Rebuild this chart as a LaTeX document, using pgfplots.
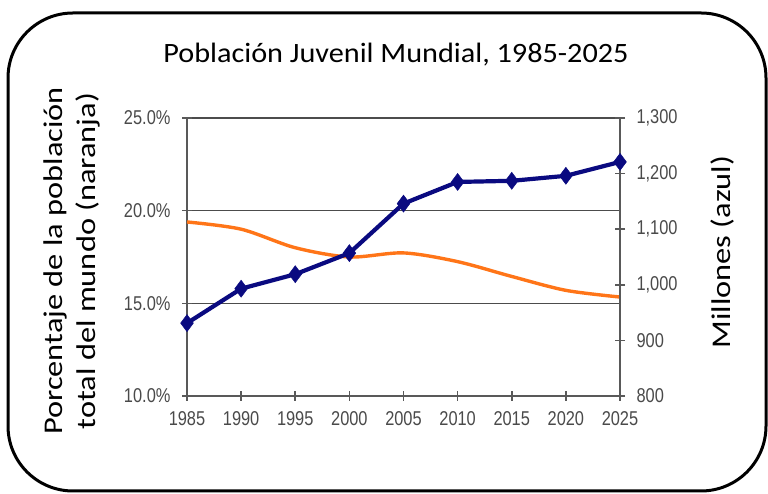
\documentclass[border=0pt]{standalone}
\usepackage{fontspec}
\setmainfont{Carlito}
\newfontfamily\tickfont[FakeStretch=0.82]{Liberation Sans}
\newfontfamily\labfont[FakeStretch=1.2]{Carlito}
\newfontfamily\titfont[FakeStretch=1.08]{Carlito}
\usepackage{pgfplots}
\pgfplotsset{compat=1.18}
\definecolor{bluel}{HTML}{0A0A80}
\definecolor{orangel}{HTML}{FF7518}
\definecolor{tickgray}{HTML}{4A4A4A}
\begin{document}
\begin{tikzpicture}[x=1pt,y=1pt]
\path[use as bounding box] (0,0) rectangle (768,494);
\draw[line width=3pt, rounded corners=65pt] (8,3) rectangle (766,481);
\node[font=\titfont\fontsize{28}{32}\selectfont] at (396,439) {Población Juvenil Mundial, 1985-2025};
\node[font=\labfont\fontsize{27}{33}\selectfont, rotate=90, align=center] at (72,233) {Porcentaje de la población\\total del mundo (naranja)};
\node[font=\labfont\fontsize{27}{33}\selectfont, rotate=90] at (722,242) {Millones (azul)};
\begin{axis}[
  at={(187pt,98pt)}, anchor=south west,
  width=433pt, height=278pt, scale only axis,
  xmin=1985, xmax=2025, ymin=10, ymax=25,
  xtick={1985,1990,...,2025},
  ytick={10,15,20,25},
  yticklabel={\pgfmathprintnumber[fixed,fixed zerofill,precision=1]{\tick}\%},
  /pgf/number format/assume math mode=true,
  xticklabel style={/pgf/number format/1000 sep={}, yshift=-7pt},
  yticklabel style={xshift=-8pt},
  tick label style={font=\tickfont\fontsize{20}{21}\selectfont, text=tickgray},
  axis y line*=left, axis x line*=bottom,
  axis line style={draw=black!65, line width=1.6pt},
  tick style={draw=black!65, line width=1.6pt},
  tick align=center, major tick length=10pt,
  ymajorgrids, grid style={draw=black!70, line width=1.6pt},
  xtick pos=bottom, ytick pos=left,
  clip=false,
]
\addplot[orangel, line width=3.4pt, smooth, tension=0.5] coordinates {
(1985,19.39) (1990,19.0) (1995,18.0) (2000,17.5) (2005,17.72) (2010,17.25) (2015,16.45) (2020,15.7) (2025,15.34)};
\end{axis}
\begin{axis}[
  at={(187pt,98pt)}, anchor=south west,
  width=433pt, height=278pt, scale only axis,
  xmin=1985, xmax=2025, ymin=800, ymax=1300,
  ytick={800,900,...,1300},
  /pgf/number format/assume math mode=true,
  yticklabel style={/pgf/number format/1000 sep={,}, xshift=8pt},
  tick label style={font=\tickfont\fontsize{20}{21}\selectfont, text=tickgray},
  axis y line*=right, axis x line=none,
  axis line style={draw=black!65, line width=1.6pt},
  tick style={draw=black!65, line width=1.6pt},
  tick align=center, major tick length=10pt,
  clip=false,
]
\addplot[bluel, line width=4.2pt, mark=diamond*, mark size=8.5pt, mark options={solid, fill=bluel, line width=0.5pt}] coordinates {
(1985,931) (1990,993) (1995,1019) (2000,1057) (2005,1146) (2010,1185) (2015,1187) (2020,1196) (2025,1221)};
\end{axis}
\end{tikzpicture}
\end{document}
